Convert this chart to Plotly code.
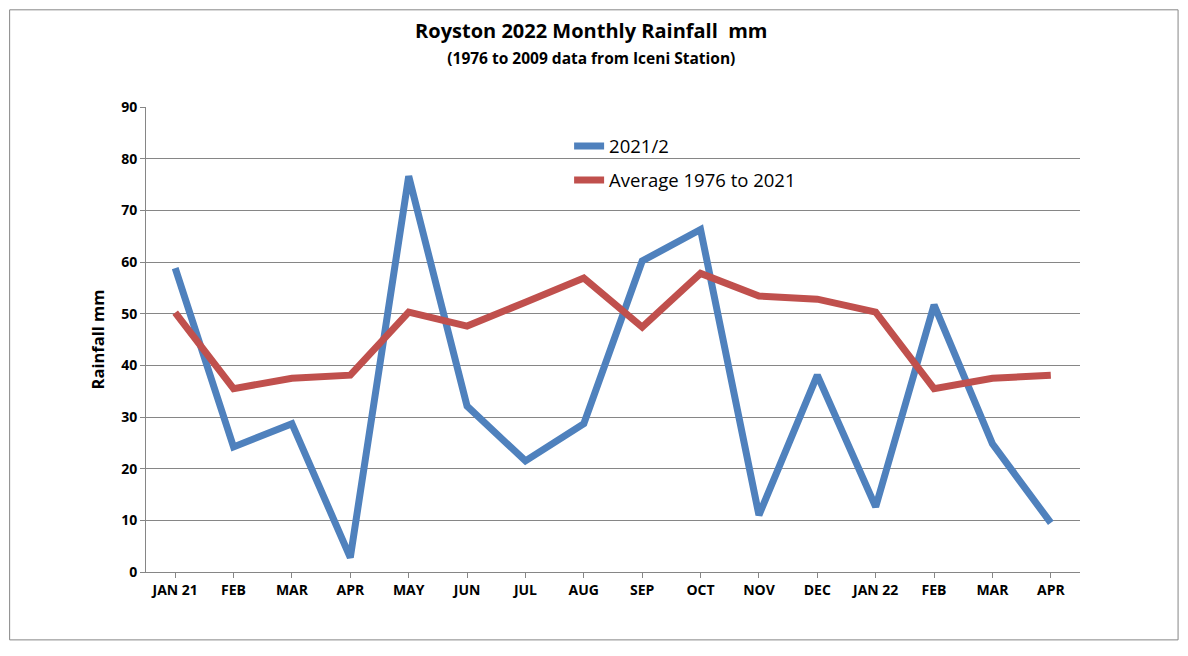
import plotly.graph_objects as go

months = ["JAN 21", "FEB", "MAR", "APR", "MAY", "JUN", "JUL", "AUG",
          "SEP", "OCT", "NOV", "DEC", "JAN 22", "FEB", "MAR", "APR"]
rain_2021_2 = [58.8, 24.2, 28.7, 2.8, 76.6, 32.1, 21.5, 28.7,
               60.2, 66.3, 11.0, 38.1, 12.6, 51.7, 24.8, 9.5]
avg_1976_2021 = [50.2, 35.5, 37.5, 38.1, 50.3, 47.6, 52.2, 56.9,
                 47.4, 57.8, 53.4, 52.8, 50.3, 35.5, 37.5, 38.1]

x_pos = list(range(len(months)))
font = "Open Sans"

fig = go.Figure()
fig.add_trace(go.Scatter(
    x=x_pos, y=rain_2021_2, mode="lines", name="2021/2",
    line=dict(color="#4F81BD", width=7), legendgroup="a",
))
fig.add_trace(go.Scatter(
    x=x_pos, y=avg_1976_2021, mode="lines", name="Average 1976 to 2021",
    line=dict(color="#C0504D", width=7), legendgroup="b",
))

fig.update_layout(
    width=1188, height=656,
    margin=dict(l=138, r=116, t=99, b=92),
    paper_bgcolor="white", plot_bgcolor="white",
    font=dict(family=font, color="black"),
    title=dict(
        text="<b>Royston 2022 Monthly Rainfall  mm</b><br>"
             "<span style='font-size:15.5px'><b>(1976 to 2009 data from Iceni Station)</b></span>",
        x=0.491, xanchor="center", y=0.954, yanchor="top",
        font=dict(size=20, family=font, color="black"),
    ),
    legend=dict(
        x=0.453, y=0.956, xanchor="left", yanchor="top",
        font=dict(size=18.5, family=font, color="black"),
        bgcolor="rgba(0,0,0,0)", itemwidth=30, tracegroupgap=7,
    ),
    showlegend=True,
)

fig.update_xaxes(
    tickmode="array", tickvals=x_pos, ticktext=months,
    range=[-0.5, len(months) - 0.5],
    showgrid=False, showline=True, linecolor="#868686", linewidth=1,
    ticks="outside", tickson="boundaries", ticklen=5, tickcolor="#868686",
    tickfont=dict(size=14, family=font, color="black", weight="bold"),
    zeroline=False,
)
fig.update_yaxes(
    range=[0, 90], dtick=10, tick0=0,
    showgrid=True, gridcolor="#868686", gridwidth=1,
    showline=True, linecolor="#868686", linewidth=1,
    ticks="outside", ticklen=5, tickcolor="#868686",
    tickfont=dict(size=14, family=font, color="black", weight="bold"),
    title=dict(text="<b>Rainfall mm</b>", font=dict(size=16.5, family=font, color="black"), standoff=12),
    zeroline=False,
)

# outer chart border
fig.add_shape(
    type="rect", xref="paper", yref="paper",
    x0=-0.146, x1=1.105, y0=-0.146, y1=1.209,
    line=dict(color="#868686", width=1), fillcolor="rgba(0,0,0,0)", layer="below",
)

fig.write_html("out.html")
